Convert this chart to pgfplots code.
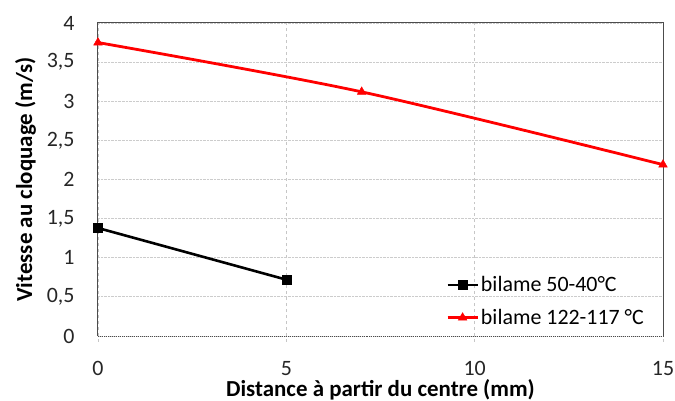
\documentclass[border=0pt]{standalone}
\usepackage{fontspec}
\setmainfont{Carlito}
\usepackage{pgfplots}
\pgfplotsset{compat=1.18}
\begin{document}
\begin{tikzpicture}
\begin{axis}[
  name=ax,
  scale only axis, width=565bp, height=313bp,
  xmin=0, xmax=15, ymin=0, ymax=4,
  xtick={0,5,10,15}, ytick={0,0.5,...,4},
  axis line style={draw=none},
  tick align=outside,
  major tick length=6bp,
  xtick pos=left, ytick pos=left,
  xtick style={draw=gray!45, dashed, line width=0.8bp},
  ytick style={draw=none},
  xmajorgrids, ymajorgrids,
  x grid style={dashed, gray!45, line width=0.8bp},
  y grid style={densely dotted, gray!40, line width=0.8bp},
  /pgf/number format/use comma,
  /pgf/number format/assume math mode=true,
  ticklabel style={font=\fontsize{22}{26}\selectfont, text=black!85},
  xticklabel style={yshift=-16bp},
  yticklabel style={xshift=-14bp},
  xlabel={Distance à partir du centre (mm)},
  ylabel={Vitesse au cloquage (m/s)},
  label style={font=\fontsize{23}{27}\selectfont\bfseries},
  xlabel style={yshift=3bp},
  ylabel style={yshift=4bp},
  clip=false,
  legend style={draw=none, fill=none, at={(rel axis cs:0.97,0.025)}, anchor=south east,
    font=\fontsize{22}{26}\selectfont, row sep=12bp, inner sep=0pt},
  legend cell align=left,
  legend image code/.code={\draw[mark repeat=2,mark phase=2,#1] plot coordinates {(0bp,0bp) (15bp,0bp) (30bp,0bp)};},
]
\draw[black!70, line width=1bp] (rel axis cs:0,0) -- (rel axis cs:0,1) -- (rel axis cs:1,1) -- (rel axis cs:1,0);
\draw[black!70, line width=1bp, densely dotted] (rel axis cs:0,0) -- (rel axis cs:1,0);
\addplot[black, line width=2.6bp, mark=square*, mark size=4.5bp, mark options={line width=0.4bp}]
  coordinates {(0,1.38) (5,0.72)};
\addlegendentry{bilame 50-40°C}
\addplot[red, line width=2.8bp, smooth, mark=triangle*, mark size=5bp, mark options={line width=0.4bp}]
  coordinates {(0,3.75) (7,3.12) (15,2.19)};
\addlegendentry{bilame 122-117 °C}
\end{axis}
\pgfresetboundingbox
\path[use as bounding box] ([xshift=-98bp,yshift=-65bp]ax.south west) rectangle ([xshift=12bp,yshift=23bp]ax.north east);
\end{tikzpicture}
\end{document}
